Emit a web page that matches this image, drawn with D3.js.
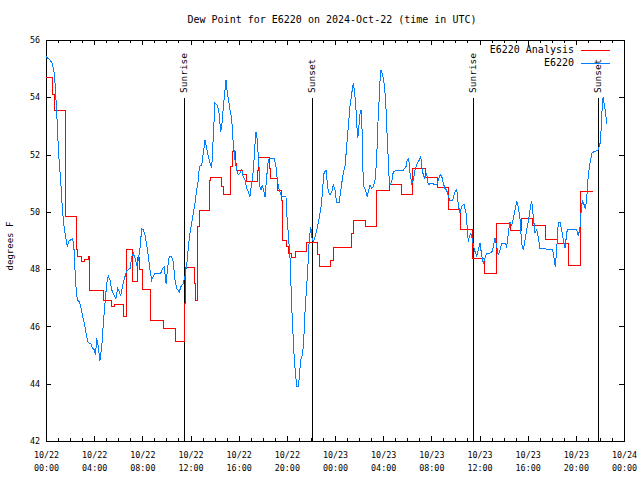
<!DOCTYPE html>
<html><head><meta charset="utf-8">
<script src="https://cdn.jsdelivr.net/npm/d3@7"></script>
<style>body{margin:0;background:#fff}svg{display:block}</style>
</head><body>
<svg id="c" width="640" height="480"></svg>
<script>
// ---------- data ----------
const startISO = "2024-10-22T00:00:00Z";
const titleText = "Dew Point for E6220 on 2024-Oct-22 (time in UTC)";
const yLabel = "degrees F";
const seriesNames = ["E6220 Analysis", "E6220"];
const seriesColors = ["#ff0000", "#0080ff"];
const yTicks = [42, 44, 46, 48, 50, 52, 54, 56];

// Analysis (red, stepped) : hours since 10/22 00:00 UTC, degrees F
const analysisHours = [0,0.5,0.7,1.58,1.66,2.5,2.6,2.95,3.2,3.5,3.65,4.75,5.45,5.7,6.4,6.65,7.2,7.57,7.75,8.05,8.7,9.75,10.72,11.5,11.6,12.3,12.45,12.6,12.75,13.55,13.65,14.6,14.7,15.3,15.5,15.7,15.8,16.3,16.65,17.55,17.65,18.55,18.65,19.25,19.55,19.65,19.95,20.15,20.4,20.7,21.65,22.55,22.7,23.6,23.85,25.35,25.5,26.5,27.45,28.5,29.55,30.45,31.5,32.5,33.4,34.4,35.45,36.45,37.4,38.55,39.5,40.4,41.5,42.5,43.4,44.35,45.35];
const analysisValues = [54.7,54.1,53.55,52.9,49.85,48.7,48.43,48.26,48.35,48.45,47.27,46.9,46.71,46.78,46.34,48.69,47.56,48.39,48.0,47.3,46.22,45.94,45.49,46.8,48.07,47.5,46.9,49.48,50.06,51.1,51.2,50.88,50.6,51.58,52.1,51.7,51.46,51.3,51.05,51.46,51.9,51.52,51.17,50.76,50.41,49.0,48.78,48.55,48.41,48.6,48.93,48.5,48.08,48.3,48.74,49.25,49.69,49.48,50.76,50.94,50.61,51.52,51.2,50.86,50.09,49.39,48.38,47.85,49.6,49.34,49.77,49.51,49.02,48.88,48.11,50.71,50.74];

// Observations (blue)
const obsHours = [0,0.33,0.5,0.66,0.75,0.83,0.89,0.94,1.02,1.1,1.22,1.33,1.44,1.58,1.72,1.8,1.85,2.05,2.22,2.33,2.41,2.49,2.6,2.77,2.88,3.05,3.24,3.38,3.51,3.71,3.88,3.99,4.11,4.21,4.34,4.48,4.63,4.76,4.9,5.04,5.17,5.31,5.46,5.65,5.81,5.95,6.09,6.2,6.37,6.56,6.7,6.83,6.98,7.12,7.25,7.39,7.53,7.66,7.81,7.95,8.08,8.22,8.36,8.5,8.64,8.78,8.91,9.05,9.52,9.69,9.82,9.97,10.11,10.24,10.44,10.57,10.71,10.85,11.07,11.21,11.4,11.54,11.63,11.73,11.82,11.96,12.1,12.23,12.37,12.51,12.65,12.73,12.93,13.06,13.2,13.35,13.48,13.62,13.76,13.89,14.03,14.23,14.37,14.51,14.59,14.67,14.81,14.95,15.06,15.17,15.28,15.42,15.55,15.7,15.84,15.97,16.11,16.25,16.38,16.53,16.67,16.8,16.94,17.08,17.22,17.36,17.44,17.55,17.63,17.71,17.77,17.85,17.96,18.1,18.19,18.33,18.46,18.6,18.96,19.1,19.21,19.37,19.57,19.93,19.99,20.12,20.26,20.35,20.43,20.54,20.62,20.74,20.82,20.95,21.04,21.15,21.32,21.43,21.53,21.65,21.78,21.86,21.98,22.09,22.2,22.34,22.48,22.61,22.75,22.89,22.98,23.09,23.25,23.31,23.44,23.58,23.73,23.86,24.0,24.14,24.36,24.41,24.56,24.69,24.83,24.97,25.1,25.24,25.39,25.52,25.6,25.72,25.8,25.89,25.97,26.08,26.16,26.24,26.3,26.41,26.57,26.68,26.8,26.91,27.05,27.18,27.32,27.46,27.55,27.65,27.74,27.82,27.96,28.07,28.21,28.29,28.38,28.46,28.57,28.71,28.84,29.12,29.67,29.9,30.0,30.12,30.23,30.37,30.5,30.64,30.83,31.0,31.12,31.2,31.33,31.47,31.61,31.75,31.95,32.44,32.72,32.86,32.99,33.13,33.27,33.41,33.55,33.77,33.96,34.11,34.24,34.38,34.52,34.71,34.88,34.99,35.07,35.15,35.27,35.38,35.49,35.63,35.77,35.9,36.04,36.18,36.31,36.46,36.6,37.01,37.15,37.29,37.43,37.56,37.7,37.84,38.12,38.26,38.39,38.53,38.67,38.81,38.95,39.09,39.22,39.36,39.5,39.64,39.78,39.92,40.05,40.19,40.33,40.47,40.61,40.75,40.88,41.02,42.08,42.19,42.29,42.41,42.54,42.68,42.82,42.96,43.1,43.18,43.29,44.07,44.2,44.34,44.48,44.56,44.67,44.78,44.9,44.98,45.09,45.18,45.32,45.51,45.87,46.01,46.09,46.18,46.26,46.37,46.48,46.56];
const obsValues = [55.42,55.3,55.2,54.9,54.5,53.9,53.55,52.97,52.28,51.7,51.1,50.3,49.7,49.25,48.9,48.78,48.96,49.02,49.08,48.67,47.97,47.39,46.92,46.86,46.69,46.34,45.99,45.64,45.43,45.41,45.23,45.2,45.0,45.58,45.3,44.8,45.3,46.1,46.8,47.5,47.76,47.62,47.27,47.1,46.98,47.33,47.21,47.06,47.45,47.74,47.97,47.97,48.03,48.43,48.55,48.38,48.17,48.32,48.76,49.42,49.37,49.2,48.84,48.43,47.97,47.62,47.76,47.85,47.85,48.03,48.08,47.5,48.08,48.46,48.43,48.26,47.62,47.33,47.21,47.39,47.5,47.74,48.03,48.32,48.78,49.25,49.6,49.95,50.3,50.76,51.1,51.58,51.64,52.04,52.5,52.22,51.93,51.7,51.52,52.62,53.79,53.73,53.44,52.8,52.97,53.38,54.02,54.6,54.14,53.9,53.56,53.27,52.39,51.81,51.46,51.29,51.35,51.46,51.23,51.11,50.82,50.7,50.53,51.0,51.46,52.39,52.8,52.51,51.93,51.46,50.88,50.76,50.94,50.7,50.53,51.23,51.81,51.87,51.87,51.58,51.11,50.76,50.53,50.53,49.95,49.25,48.43,47.39,46.46,45.52,44.83,44.24,43.92,43.92,44.24,44.83,45.06,45.76,46.69,47.39,48.32,49.02,49.48,49.1,48.96,49.13,49.37,49.6,49.95,50.3,50.88,51.35,51.46,51.23,50.7,50.59,50.7,50.94,50.76,50.32,50.32,50.53,51.0,51.35,51.58,52.28,52.97,53.67,54.14,54.49,54.25,53.79,53.09,52.57,52.92,53.44,53.56,52.97,51.58,50.88,50.7,50.53,50.76,50.94,50.82,50.88,51.11,51.81,52.97,53.79,54.6,54.95,54.78,54.49,53.9,52.97,52.28,51.35,50.94,51.05,51.4,51.46,51.46,51.58,51.81,51.87,51.35,51.0,51.11,51.46,51.7,51.81,51.93,51.58,51.29,51.17,51.35,50.94,51.0,50.94,51.3,51.25,51.0,50.82,50.76,50.55,50.4,50.41,50.7,50.79,50.24,49.95,50.2,50.27,49.95,49.4,48.96,49.13,49.25,49.08,48.84,48.61,48.45,48.67,48.9,48.49,48.2,48.38,48.55,48.57,48.78,49.08,48.78,48.49,48.67,48.9,48.9,48.78,49.25,49.65,49.54,49.77,50.06,50.36,50.18,49.77,48.9,48.67,49.02,49.37,49.65,50.06,50.39,49.83,49.25,49.37,49.13,48.73,48.67,48.38,48.08,48.67,49.6,49.65,49.37,49.02,48.73,49.02,49.39,49.37,49.16,49.42,50.24,50.36,50.27,50.12,50.41,51.0,51.46,51.7,52.04,52.1,52.16,52.39,52.8,53.55,54.0,53.73,53.44,53.07];

const sunLabels = ["Sunrise", "Sunset", "Sunrise", "Sunset"];
const sunHours = [11.47, 22.05, 35.43, 45.87];

// ---------- drawing ----------
const W = 640, H = 480;
const m = {left: 46, right: 16, top: 40, bottom: 39};
const t0 = new Date(startISO);
const toDate = h => new Date(t0.getTime() + h * 3600e3);

const x = d3.scaleUtc().domain([t0, toDate(48)]).range([m.left, W - m.right]);
const y = d3.scaleLinear().domain([42, 56]).range([H - m.bottom, m.top]);

const svg = d3.select("#c");
const mono = "'DejaVu Sans Mono', monospace";

svg.append("rect").attr("width", W).attr("height", H).attr("fill", "#fff");

// axes
const fmtD = d3.utcFormat("%m/%d"), fmtT = d3.utcFormat("%H:%M");
const gx = svg.append("g").attr("transform", `translate(0,${H - m.bottom})`)
  .call(d3.axisBottom(x).ticks(d3.utcHour.every(4)).tickSize(-5).tickPadding(0).tickFormat(""));
gx.selectAll(".tick").append("text")
  .attr("fill", "#000").attr("font-family", mono).attr("font-size", 8.4)
  .attr("text-anchor", "middle")
  .each(function(d) {
    const t = d3.select(this);
    t.append("tspan").attr("x", 0).attr("y", 17).text(fmtD(d));
    t.append("tspan").attr("x", 0).attr("y", 30).text(fmtT(d));
  });
svg.append("g").attr("transform", `translate(0,${H - m.bottom})`)
  .call(d3.axisBottom(x).ticks(d3.utcHour.every(1)).tickSize(-3).tickFormat(""));
svg.append("g").attr("transform", `translate(0,${m.top})`)
  .call(d3.axisTop(x).ticks(d3.utcHour.every(4)).tickSize(-5).tickFormat(""));
svg.append("g").attr("transform", `translate(0,${m.top})`)
  .call(d3.axisTop(x).ticks(d3.utcHour.every(1)).tickSize(-3).tickFormat(""));

svg.append("g").attr("transform", `translate(${m.left},0)`)
  .call(d3.axisLeft(y).tickValues(yTicks).tickSize(-5).tickPadding(6))
  .call(g => g.selectAll("text").attr("font-family", mono).attr("font-size", 8.4).attr("fill", "#000"));
svg.append("g").attr("transform", `translate(${W - m.right},0)`)
  .call(d3.axisRight(y).tickValues(yTicks).tickSize(-5).tickFormat(""));

svg.selectAll(".domain").remove();
svg.selectAll(".tick line").attr("stroke", "#000").attr("shape-rendering", "crispEdges");

// frame
svg.append("rect").attr("x", m.left + 0.5).attr("y", m.top + 0.5)
  .attr("width", W - m.left - m.right).attr("height", H - m.top - m.bottom)
  .attr("fill", "none").attr("stroke", "#000").attr("shape-rendering", "crispEdges");

// sunrise / sunset markers
const sun = svg.append("g");
sunHours.forEach((h, i) => {
  const xx = Math.round(x(toDate(h))) + 0.5;
  sun.append("line").attr("x1", xx).attr("x2", xx).attr("y1", 98).attr("y2", H - m.bottom)
    .attr("stroke", "#000").attr("shape-rendering", "crispEdges");
  sun.append("text").attr("transform", `translate(${xx},93) rotate(-90)`)
    .attr("font-family", mono).attr("font-size", 9.5).attr("dominant-baseline", "middle")
    .attr("text-anchor", "start").text(sunLabels[i]);
});

// series
const redPts = analysisHours.map((h, i) => [toDate(h), analysisValues[i]]);
const bluePts = obsHours.map((h, i) => [toDate(h), obsValues[i]]);
const lineStep = d3.line().x(d => x(d[0])).y(d => y(d[1])).curve(d3.curveStepAfter);
const lineLin = d3.line().x(d => x(d[0])).y(d => y(d[1]));
svg.append("path").datum(redPts).attr("d", lineStep).attr("fill", "none")
  .attr("stroke", seriesColors[0]).attr("stroke-width", 1).attr("shape-rendering", "crispEdges");
svg.append("path").datum(bluePts).attr("d", lineLin).attr("fill", "none")
  .attr("stroke", seriesColors[1]).attr("stroke-width", 1).attr("shape-rendering", "crispEdges");

// legend
seriesNames.forEach((n, i) => {
  const yy = 50 + i * 13;
  svg.append("text").attr("x", 574).attr("y", yy).attr("dominant-baseline", "middle")
    .attr("text-anchor", "end").attr("font-family", mono).attr("font-size", 10).text(n);
  svg.append("line").attr("x1", 581).attr("x2", 610).attr("y1", yy + 0.5).attr("y2", yy + 0.5)
    .attr("stroke", seriesColors[i]).attr("shape-rendering", "crispEdges");
});

// title & y label
svg.append("text").attr("x", 332).attr("y", 20).attr("dominant-baseline", "middle")
  .attr("text-anchor", "middle").attr("font-family", mono).attr("font-size", 10).text(titleText);
svg.append("text").attr("transform", "translate(10,246) rotate(-90)")
  .attr("dominant-baseline", "middle").attr("text-anchor", "middle")
  .attr("font-family", mono).attr("font-size", 9).text(yLabel);
</script>
</body></html>
